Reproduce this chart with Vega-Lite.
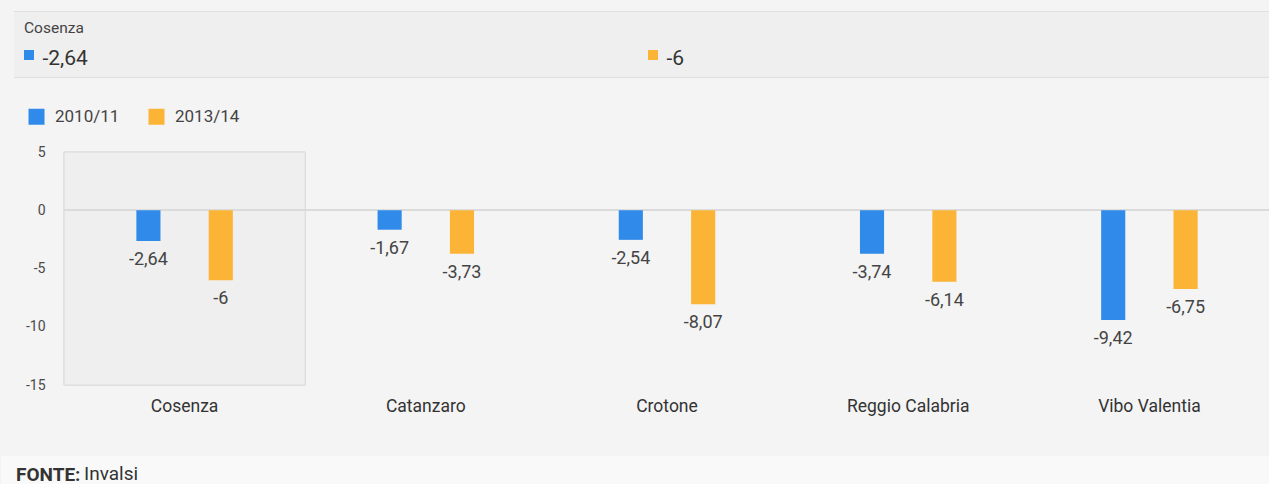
{
  "$schema": "https://vega.github.io/schema/vega-lite/v6.json",
  "background": "#f4f4f4",
  "padding": {"top": 11, "left": 0, "right": 0, "bottom": 0},
  "datasets": {
    "dati": [
      {"provincia": "Cosenza", "anno": "2010/11", "valore": -2.64},
      {"provincia": "Cosenza", "anno": "2013/14", "valore": -6},
      {"provincia": "Catanzaro", "anno": "2010/11", "valore": -1.67},
      {"provincia": "Catanzaro", "anno": "2013/14", "valore": -3.73},
      {"provincia": "Crotone", "anno": "2010/11", "valore": -2.54},
      {"provincia": "Crotone", "anno": "2013/14", "valore": -8.07},
      {"provincia": "Reggio Calabria", "anno": "2010/11", "valore": -3.74},
      {"provincia": "Reggio Calabria", "anno": "2013/14", "valore": -6.14},
      {"provincia": "Vibo Valentia", "anno": "2010/11", "valore": -9.42},
      {"provincia": "Vibo Valentia", "anno": "2013/14", "valore": -6.75}
    ]
  },
  "title": {"text": "Invalsi", "orient": "top", "anchor": "start", "frame": "group", "offset": -488, "dx": 83, "baseline": "alphabetic", "fontSize": 19, "fontWeight": "normal", "color": "#333"},
  "bounds": "flush",
  "spacing": 0,
  "resolve": {"scale": {"color": "independent", "x": "independent", "y": "independent"}, "legend": {"color": "independent"}},
  "config": {
    "font": "Roboto",
    "view": {"stroke": null},
    "locale": {"number": {"decimal": ",", "thousands": ".", "grouping": [3], "currency": ["€", ""], "minus": "-"}}
  },
  "vconcat": [
    {
      "width": 1269,
      "height": 65,
      "data": {"name": "dati"},
      "transform": [{"filter": "datum.provincia === 'Cosenza'"}],
      "view": {"stroke": "#d7d7d7", "strokeWidth": 1.5, "strokeDash": [0, 13, 1256, 65, 1256, 78]},
      "title": {"text": "Cosenza", "anchor": "start", "frame": "group", "orient": "top", "offset": -36.5, "dx": 23, "baseline": "alphabetic", "fontSize": 15.5, "fontWeight": "normal", "color": "#444"},
      "resolve": {"scale": {"x": "independent"}},
      "layer": [
        {"mark": {"type": "rect", "fill": "#efefef"},
          "encoding": {
            "x": {"field": "anno", "type": "nominal", "scale": {"type": "band", "range": [13, 1269], "paddingInner": 0, "paddingOuter": 0}, "axis": null}
          }},
        {
          "encoding": {
            "x": {"field": "anno", "type": "nominal", "scale": {"type": "point", "range": [28, 652], "padding": 0}, "axis": null}
          },
          "layer": [
            {"mark": {"type": "point", "shape": "square", "filled": true, "size": 100, "opacity": 1},
              "encoding": {
                "yOffset": {"value": 10.5},
                "color": {"field": "anno", "type": "nominal", "scale": {"domain": ["2010/11", "2013/14"], "range": ["#2f8ae9", "#fbb436"]}, "legend": null}
              }},
            {"mark": {"type": "text", "align": "left", "baseline": "alphabetic", "dx": 13.5, "dy": 20, "fontSize": 21, "color": "#333"},
              "encoding": {
                "text": {"field": "valore", "type": "quantitative", "format": "~g"}
              }}
          ]
        }
      ]
    },
    {"width": 10, "height": 75, "data": {"name": "dati"}, "mark": {"type": "text"}, "encoding": {}},
    {
      "width": 1269,
      "height": 233,
      "data": {"name": "dati"},
      "encoding": {
        "x": {"field": "provincia", "type": "nominal", "sort": null, "scale": {"type": "band", "range": [63, 1269], "paddingInner": 0, "paddingOuter": 0},
          "axis": {"title": null, "domain": false, "ticks": false, "tickSize": 0, "labelAngle": 0, "labelFontSize": 17.5, "labelColor": "#333", "labelPadding": 26, "labelBaseline": "alphabetic"}}
      },
      "layer": [
        {"transform": [{"filter": "datum.provincia === 'Cosenza'"}], "mark": {"type": "rect", "fill": "#efefef", "stroke": "#dadada", "strokeWidth": 1}},
        {"mark": {"type": "rule", "color": "#dadada", "strokeWidth": 1},
          "encoding": {
            "x": {"datum": "Cosenza", "type": "nominal", "bandPosition": 0},
            "x2": {"value": "width"},
            "y": {"datum": 0, "type": "quantitative",
              "axis": {"title": null, "values": [5, 0, -5, -10, -15], "domain": false, "ticks": false, "tickSize": 0, "grid": false, "offset": -63, "labelFontSize": 14, "labelColor": "#4a4a4a", "labelPadding": 19, "format": "~g"}}
          }},
        {
          "mark": {"type": "bar"},
          "encoding": {
            "xOffset": {"field": "anno", "type": "nominal", "scale": {"paddingInner": 0.6667, "paddingOuter": 1}},
            "y": {"field": "valore", "type": "quantitative", "stack": null, "scale": {"domain": [-15, 5], "nice": false, "zero": false},
              "axis": {"title": null, "values": [5, 0, -5, -10, -15], "domain": false, "ticks": false, "tickSize": 0, "grid": false, "offset": -63, "labelFontSize": 14, "labelColor": "#4a4a4a", "labelPadding": 19, "format": "~g"}},
            "y2": {"datum": 0},
            "color": {"field": "anno", "type": "nominal", "scale": {"domain": ["2010/11", "2013/14"], "range": ["#2f8ae9", "#fbb436"]},
              "legend": {"orient": "none", "legendX": 27, "legendY": -44, "direction": "horizontal", "title": null, "symbolType": "square", "symbolSize": 256, "symbolStrokeWidth": 0, "labelFontSize": 17, "labelColor": "#444", "labelOffset": 10, "columnPadding": 28}}
          }
        },
        {
          "mark": {"type": "text", "baseline": "alphabetic", "dy": 24, "fontSize": 18, "color": "#444"},
          "encoding": {
            "xOffset": {"field": "anno", "type": "nominal"},
            "y": {"field": "valore", "type": "quantitative"},
            "text": {"field": "valore", "type": "quantitative", "format": "~g"}
          }
        }
      ]
    },
    {"width": 10, "height": 71, "data": {"name": "dati"}, "mark": {"type": "text"}, "encoding": {}},
    {"width": 1269, "height": 29, "data": {"name": "dati"}, "mark": {"type": "text"}, "encoding": {}, "view": {"fill": "#f9f9f9"},
      "title": {"text": "FONTE:", "anchor": "start", "frame": "group", "orient": "top", "offset": -44, "dx": 15, "baseline": "alphabetic", "fontSize": 19, "fontWeight": "bold", "color": "#333"}}
  ]
}
